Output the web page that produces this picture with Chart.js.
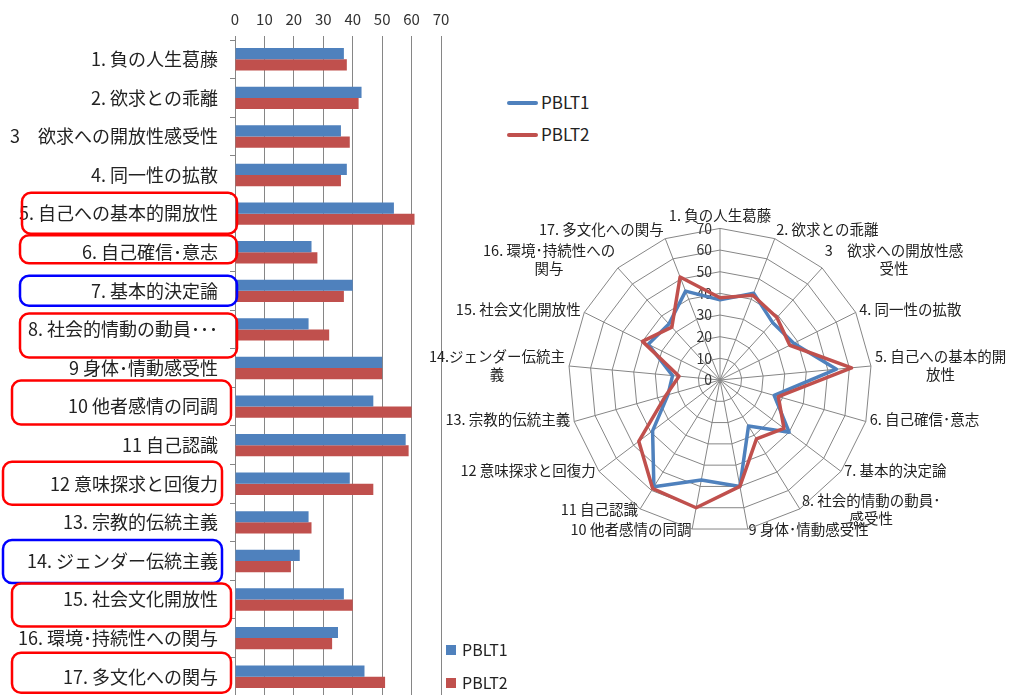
<!DOCTYPE html>
<html lang="ja">
<head>
<meta charset="utf-8">
<script src="https://cdn.jsdelivr.net/npm/chart.js@4.4.1/dist/chart.umd.min.js"></script>
<style>
  html, body { margin: 0; padding: 0; background: #fff; width: 1020px; height: 695px; overflow: hidden; }
  canvas { position: absolute; }
  #barChart { left: 0; top: 0; }
  #radarChart { left: 380px; top: 206px; }
  .legend { position: absolute; font-family: 'Noto Sans CJK JP', sans-serif; color: #222; }
  .legend div { position: relative; white-space: nowrap; }
  .swatch { display: inline-block; vertical-align: middle; }
  #radarLegend { left: 507px; top: 92px; font-size: 17px; line-height: 20px; }
  #radarLegend div { height: 20px; margin-bottom: 12px; }
  #radarLegend .swatch { width: 31px; height: 4px; border-radius: 2px; margin-right: 3px; margin-top: -3px; }
  #barLegend { left: 446px; top: 640px; font-size: 16px; line-height: 19px; }
  #barLegend div { height: 19px; margin-bottom: 14px; }
  #barLegend .swatch { width: 10px; height: 10px; margin-right: 6px; margin-top: -3px; }
</style>
</head>
<body>
<canvas id="barChart" width="450" height="696"></canvas>
<canvas id="radarChart" width="680" height="346"></canvas>
<div class="legend" id="radarLegend"></div>
<div class="legend" id="barLegend"></div>
<script>
// labels as they appear on the bar chart (item 8 is cut short there)
var barLabels = [
  '1. 負の人生葛藤', '2. 欲求との乖離', '3\u3000欲求への開放性感受性', '4. 同一性の拡散',
  '5. 自己への基本的開放性', '6. 自己確信･意志', '7. 基本的決定論', '8. 社会的情動の動員･･･',
  '9 身体･情動感受性', '10 他者感情の同調', '11 自己認識', '12 意味探求と回復力',
  '13. 宗教的伝統主義', '14. ジェンダー伝統主義', '15. 社会文化開放性',
  '16. 環境･持続性への関与', '17. 多文化への関与'
];
// same items on the radar, wrapped the way the picture wraps them
var radarLabels = [
  '1. 負の人生葛藤', '2. 欲求との乖離', ['3\u3000欲求への開放性感', '受性'], '4. 同一性の拡散',
  ['5. 自己への基本的開', '放性'], '6. 自己確信･意志', '7. 基本的決定論', ['8. 社会的情動の動員･', '感受性'],
  '9 身体･情動感受性', '10 他者感情の同調', '11 自己認識', '12 意味探求と回復力',
  '13. 宗教的伝統主義', ['14.ジェンダー伝統主', '義'], '15. 社会文化開放性',
  ['16. 環境･持続性への', '関与'], '17. 多文化への関与'
];
var pblt1 = [37, 43, 36, 38, 54, 26, 40, 25, 50, 47, 58, 39, 25, 22, 37, 35, 44];
var pblt2 = [38, 42, 39, 36, 61, 28, 37, 32, 50, 60, 59, 47, 26, 19, 40, 33, 51];
var axisTicks = [0, 10, 20, 30, 40, 50, 60, 70];

var seriesNames = ['PBLT1', 'PBLT2'];
var seriesColors = ['#4F81BD', '#C0504D'];

// rounded boxes drawn round some bar labels: index, colour, left, right, above, below
var highlights = [
  {i: 4, color: '#FF0000', x0: 22, x1: 237, up: 21, down: 20},
  {i: 5, color: '#FF0000', x0: 20, x1: 237, up: 17, down: 11},
  {i: 6, color: '#0000FF', x0: 20, x1: 237, up: 15, down: 15},
  {i: 7, color: '#FF0000', x0: 20, x1: 237, up: 16, down: 28},
  {i: 9, color: '#FF0000', x0: 12, x1: 231, up: 26, down: 18},
  {i: 11, color: '#FF0000', x0: 3, x1: 222, up: 22, down: 21},
  {i: 13, color: '#0000FF', x0: 3, x1: 222, up: 21, down: 22},
  {i: 14, color: '#FF0000', x0: 12, x1: 231, up: 16, down: 27},
  {i: 16, color: '#FF0000', x0: 12, x1: 231, up: 24, down: 16}
];

var jpFont = "'Noto Sans CJK JP', sans-serif";
var gridColor = '#868686';
var radarLabelSize = 14.5;

var highlightPlugin = {
  id: 'labelBoxes',
  afterDraw: function(chart) {
    var ctx = chart.ctx;
    var yScale = chart.scales.y;
    ctx.save();
    ctx.lineWidth = 2.5;
    highlights.forEach(function(h) {
      var yc = yScale.getPixelForValue(h.i);
      ctx.strokeStyle = h.color;
      ctx.beginPath();
      ctx.roundRect(h.x0, yc - h.up, h.x1 - h.x0, h.up + h.down, 9);
      ctx.stroke();
    });
    ctx.restore();
  }
};

new Chart(document.getElementById('barChart'), {
  type: 'bar',
  data: {
    labels: barLabels,
    datasets: [
      {label: seriesNames[0], data: pblt1, backgroundColor: seriesColors[0]},
      {label: seriesNames[1], data: pblt2, backgroundColor: seriesColors[1]}
    ]
  },
  options: {
    indexAxis: 'y',
    responsive: false,
    animation: false,
    layout: {padding: {right: 9}},
    datasets: {bar: {categoryPercentage: 0.58, barPercentage: 1}},
    plugins: {legend: {display: false}, tooltip: {enabled: false}},
    scales: {
      x: {
        position: 'top', min: 0, max: 70,
        afterBuildTicks: function(axis) { axis.ticks = axisTicks.map(function(v) { return {value: v}; }); },
        ticks: {font: {size: 15, family: jpFont}, color: '#333', padding: 8},
        grid: {color: gridColor, tickLength: 4},
        border: {display: false},
        afterFit: function(axis) { axis.height = 40; axis.paddingLeft = 0; axis.paddingRight = 0; }
      },
      y: {
        ticks: {font: {size: 18, family: jpFont}, color: '#222', padding: 12, autoSkip: false},
        grid: {offset: true, drawOnChartArea: false, tickLength: 5, color: gridColor},
        border: {color: gridColor},
        afterFit: function(axis) { axis.width = 235; axis.paddingTop = 0; axis.paddingBottom = 0; }
      }
    }
  },
  plugins: [highlightPlugin]
});

// radial tick labels sit just left of the vertical spoke
var radarTicksPlugin = {
  id: 'radarTicks',
  beforeDatasetsDraw: function(chart) {
    var r = chart.scales.r;
    var ctx = chart.ctx;
    ctx.save();
    ctx.font = '14px ' + jpFont;
    ctx.fillStyle = '#333';
    ctx.textAlign = 'right';
    ctx.textBaseline = 'middle';
    axisTicks.forEach(function(v) {
      ctx.fillText(String(v), r.xCenter - 8, r.yCenter - r.getDistanceFromCenterForValue(v));
    });
    ctx.restore();
  }
};

// Excel centres the spoke labels more on their spoke than Chart.js does,
// and centres the wrapped lines: nudge the laid-out label boxes
function centrePointLabels(scale) {
  var lh = radarLabelSize * 1.2;
  scale._pointLabelItems.forEach(function(item, i) {
    var a = scale.getIndexAngle(i);
    var lines = Array.isArray(radarLabels[i]) ? radarLabels[i].length : 1;
    var h = lines * lh;
    var dy = Math.cos(a) > 0.01 ? h / 2 * Math.abs(Math.sin(a)) : -(h / 2 + 3);
    item.y += dy;
    item.top += dy;
    item.bottom += dy;
    if (lines > 1) {
      item.x = (item.left + item.right) / 2;
      item.textAlign = 'center';
    }
  });
}

new Chart(document.getElementById('radarChart'), {
  type: 'radar',
  data: {
    labels: radarLabels,
    datasets: [
      {label: seriesNames[0], data: pblt1, borderColor: seriesColors[0], borderWidth: 3.5,
       pointRadius: 0, fill: false, order: 1},
      {label: seriesNames[1], data: pblt2, borderColor: seriesColors[1], borderWidth: 3.5,
       pointRadius: 0, fill: false, order: 0}
    ]
  },
  options: {
    responsive: false,
    animation: false,
    elements: {line: {tension: 0, borderJoinStyle: 'round'}},
    plugins: {legend: {display: false}, tooltip: {enabled: false}},
    scales: {
      r: {
        min: 0, max: 70,
        ticks: {stepSize: 10, display: false},
        grid: {circular: false, color: gridColor, lineWidth: 1},
        angleLines: {color: gridColor},
        pointLabels: {font: {size: radarLabelSize, family: jpFont}, color: '#222', padding: 4},
        afterFit: centrePointLabels
      }
    }
  },
  plugins: [radarTicksPlugin]
});

// legends
function buildLegend(id) {
  var box = document.getElementById(id);
  seriesNames.forEach(function(name, k) {
    var row = document.createElement('div');
    var sw = document.createElement('span');
    sw.className = 'swatch';
    sw.style.background = seriesColors[k];
    row.appendChild(sw);
    row.appendChild(document.createTextNode(name));
    box.appendChild(row);
  });
}
buildLegend('radarLegend');
buildLegend('barLegend');
</script>
</body>
</html>
